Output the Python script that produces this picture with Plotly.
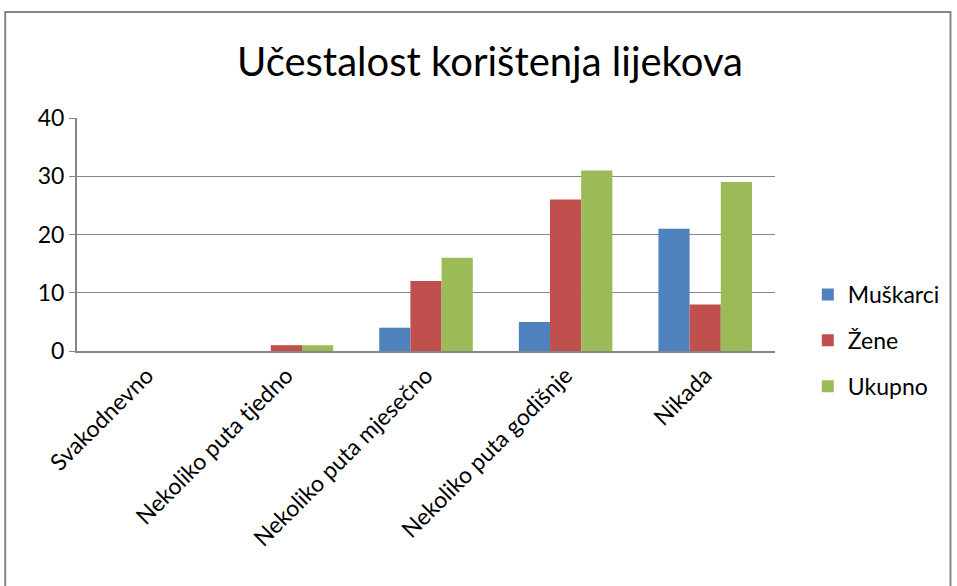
import plotly.graph_objects as go

categories = ["Svakodnevno", "Nekoliko puta tjedno", "Nekoliko puta mjesečno",
              "Nekoliko puta godišnje", "Nikada"]
muskarci = [0, 0, 4, 5, 21]
zene = [0, 1, 12, 26, 8]
ukupno = [0, 1, 16, 31, 29]

series = [("Muškarci", muskarci, "#4F81BD"),
          ("Žene", zene, "#C0504D"),
          ("Ukupno", ukupno, "#9BBB59")]

FONT = "Lato"


def main():
    fig = go.Figure()
    for name, vals, color in series:
        fig.add_trace(go.Bar(x=categories, y=vals, name=name, legendgroup=name,
                             marker=dict(color=color, line=dict(width=0))))

    fig.update_layout(
        width=957, height=586,
        margin=dict(l=77, r=180, t=118, b=235),
        paper_bgcolor="white", plot_bgcolor="white",
        font=dict(family=FONT, size=23, color="black"),
        title=dict(text="Učestalost korištenja lijekova", x=490 / 957, xanchor="center",
                   y=1 - 62 / 586, yanchor="middle", font=dict(size=40, family=FONT)),
        barmode="group", bargap=0.33, bargroupgap=0,
        legend=dict(x=1.047, y=0.335, xanchor="left", yanchor="top",
                    tracegroupgap=13, font=dict(size=23), itemwidth=30),
        showlegend=True,
    )
    fig.update_xaxes(showline=True, linecolor="#868686", linewidth=2,
                     tickangle=-45, ticks="", showgrid=False)
    fig.update_yaxes(range=[0, 40], dtick=10, showgrid=True, gridcolor="#868686",
                     gridwidth=1, showline=True, linecolor="#868686", linewidth=2,
                     ticks="outside", ticklen=6, tickcolor="#868686", zeroline=False)

    # outer chart border
    fig.add_shape(type="rect", xref="paper", yref="paper",
                  x0=(5 - 77) / 700, x1=(953 - 77) / 700,
                  y0=(351 - 600) / 233, y1=(351 - 12) / 233,
                  line=dict(color="#868686", width=2))

    fig.write_html("out.html", config={"displayModeBar": False},
                   post_script="document.body.style.margin='0';")


if __name__ == "__main__":
    main()
